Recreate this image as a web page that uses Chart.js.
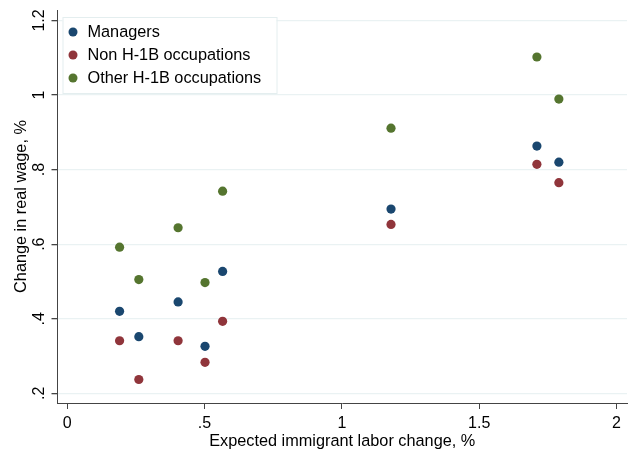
<!DOCTYPE html>
<html><head><meta charset="utf-8">
<script src="https://cdn.jsdelivr.net/npm/chart.js@4/dist/chart.umd.min.js"></script>
<style>html,body{margin:0;padding:0;background:#fff}#wrap{width:632px;height:451px}</style>
</head><body><div id="wrap"><canvas id="c" width="632" height="451"></canvas></div>
<script>
const xValues = [0.191, 0.261, 0.404, 0.502, 0.566, 1.179, 1.710, 1.790];
const managers = [0.420, 0.352, 0.445, 0.326, 0.527, 0.694, 0.863, 0.820];
const nonH1B = [0.341, 0.237, 0.341, 0.283, 0.393, 0.653, 0.814, 0.765];
const otherH1B = [0.592, 0.505, 0.644, 0.497, 0.742, 0.911, 1.102, 0.989];
const seriesNames = ["Managers", "Non H-1B occupations", "Other H-1B occupations"];
const xTicks = [0, 0.5, 1, 1.5, 2];
const xTickLabels = ["0", ".5", "1", "1.5", "2"];
const yTicks = [0.2, 0.4, 0.6, 0.8, 1.0, 1.2];
const yTickLabels = [".2", ".4", ".6", ".8", "1", "1.2"];
const xTitle = "Expected immigrant labor change, %";
const yTitle = "Change in real wage, %";

const colors = ["#1a476f", "#90353b", "#55752f"];
const FONT = "'Liberation Sans', Arial, sans-serif";
const toPts = ys => xValues.map((x, i) => ({x: x, y: ys[i]}));

const yLabelPlugin = {
  id: 'yLabels',
  afterDraw(chart) {
    const ctx = chart.ctx, ys = chart.scales.y;
    ctx.save();
    ctx.font = "16px " + FONT;
    ctx.fillStyle = "#000";
    ctx.textAlign = "center";
    ctx.textBaseline = "middle";
    yTicks.forEach((v, i) => {
      const py = ys.getPixelForValue(v);
      ctx.save();
      ctx.translate(40, py);
      ctx.rotate(-Math.PI / 2);
      ctx.fillText(yTickLabels[i], 0, 0);
      ctx.restore();
    });
    ctx.restore();
  }
};

const legendPlugin = {
  id: 'inLegend',
  afterDraw(chart) {
    const ctx = chart.ctx, a = chart.chartArea;
    const bx = a.left + 5, by = a.top + 7, bw = 214, bh = 76;
    ctx.save();
    ctx.fillStyle = "#fff";
    ctx.fillRect(bx, by, bw, bh);
    ctx.strokeStyle = "#e4eeef";
    ctx.lineWidth = 1;
    ctx.strokeRect(bx + 0.5, by + 0.5, bw, bh);
    ctx.font = "16.3px " + FONT;
    ctx.textBaseline = "middle";
    ctx.textAlign = "left";
    seriesNames.forEach((name, i) => {
      const cy = by + 15 + i * 23;
      ctx.fillStyle = colors[i];
      ctx.beginPath();
      ctx.arc(bx + 10.5, cy, 4.5, 0, Math.PI * 2);
      ctx.fill();
      ctx.fillStyle = "#000";
      ctx.fillText(name, bx + 25, cy + 1);
    });
    ctx.restore();
  }
};

new Chart(document.getElementById('c'), {
  type: 'scatter',
  data: {
    datasets: [managers, nonH1B, otherH1B].map((ys, i) => ({
      label: seriesNames[i],
      data: toPts(ys),
      backgroundColor: colors[i],
      borderColor: colors[i],
      borderWidth: 0,
      pointRadius: 4.6,
      pointHoverRadius: 4.6
    }))
  },
  options: {
    responsive: false,
    animation: false,
    events: [],
    layout: {padding: {top: 10, right: 5, left: 0, bottom: 0}},
    plugins: {legend: {display: false}, tooltip: {enabled: false}},
    scales: {
      x: {
        type: 'linear',
        min: -0.035, max: 2.038,
        afterBuildTicks: s => { s.ticks = xTicks.map(v => ({value: v})); },
        afterFit: s => { s.height = 48; },
        grid: {drawOnChartArea: false, tickLength: 6, tickColor: "#444", tickWidth: 1},
        border: {color: "#444", width: 1},
        ticks: {
          font: {family: FONT, size: 16}, color: "#000", padding: 5, maxRotation: 0,
          callback: v => { const i = xTicks.indexOf(v); return i >= 0 ? xTickLabels[i] : ''; }
        },
        title: {display: true, text: xTitle, font: {family: FONT, size: 16.3}, color: "#000", padding: {top: 0, bottom: 0}}
      },
      y: {
        type: 'linear',
        min: 0.174, max: 1.228,
        afterBuildTicks: s => { s.ticks = yTicks.map(v => ({value: v})); },
        afterFit: s => { s.width = 57.5; },
        grid: {drawOnChartArea: true, color: "#eaf2f3", lineWidth: 1.3, tickLength: 6, tickColor: "#444"},
        border: {color: "#444", width: 1},
        ticks: {display: false},
        title: {display: true, text: yTitle, font: {family: FONT, size: 16.3}, color: "#000", padding: {top: 12, bottom: 0}}
      }
    }
  },
  plugins: [yLabelPlugin, legendPlugin]
});
</script></body></html>
